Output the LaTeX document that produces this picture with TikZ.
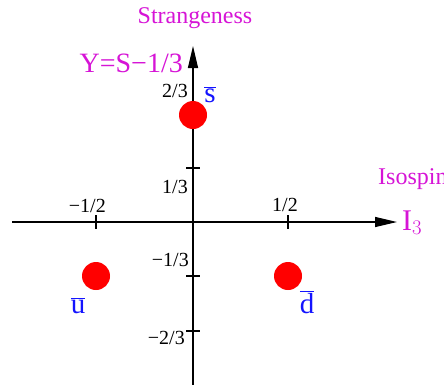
\documentclass[tikz,border=0pt]{standalone}
\usepackage{fontspec}
\setmainfont{Liberation Serif}
\usetikzlibrary{arrows.meta}
\definecolor{mag}{RGB}{214,20,214}
\definecolor{qblue}{RGB}{20,20,255}
\begin{document}
\begin{tikzpicture}[x=1pt,y=-1pt,
  axis/.style={line width=1.3pt,-{Triangle[length=22pt,width=10pt]}},
  tickmark/.style={line width=1.1pt},
  dot/.style={circle,fill=red,minimum size=28pt,inner sep=0pt},
  num/.style={font=\fontsize{20}{20}\selectfont,inner sep=0pt},
  title/.style={font=\fontsize{24}{24}\selectfont,text=mag,inner sep=0pt},
  big/.style={font=\fontsize{28}{28}\selectfont,text=mag,inner sep=0pt},
  quark/.style={font=\fontsize{29}{29}\selectfont,text=qblue,inner sep=0pt}]
\useasboundingbox (0,0) rectangle (444,384);
\clip (0,0) rectangle (444,384);
\coordinate (xl) at (12,222);
\coordinate (xr) at (397,222);
\coordinate (yb) at (193,390);
\coordinate (yt) at (193,46);
\draw[axis] (xl) -- (xr);
\draw[axis] (yb) -- (yt);
% ticks
\draw[tickmark] (96,215) -- (96,229);
\draw[tickmark] (288,215) -- (288,229);
\draw[tickmark] (186,168) -- (200,168);
\draw[tickmark] (186,114) -- (200,114);
\draw[tickmark] (186,276) -- (200,276);
\draw[tickmark] (186,331) -- (200,331);
% tick labels
\node[num,anchor=east] (lmh) at (106,206) {−1/2};
\node[num] (lph) at (285,205) {1/2};
\node[num,anchor=east] (lpt) at (188,187) {1/3};
\node[num,anchor=east] (lptt) at (188,91) {2/3};
\node[num,anchor=east] (lmt) at (189,260) {−1/3};
\node[num,anchor=east] (lmtt) at (185,338) {−2/3};
% axis titles
\node[title] (strange) at (195,18) {Strangeness};
\node[title,anchor=west] (iso) at (378,179) {Isospin};
\node[big,anchor=east] (ylab) at (183,63) {Y=S−1/3};
\node[big,anchor=base west,font=\fontsize{30}{30}\selectfont] (i3) at (402,230) {I$_{\fontsize{24}{24}\selectfont 3}$};
% quarks
\node[dot] (sbar) at (193,115) {};
\node[dot] (ubar) at (96,276) {};
\node[dot] (dbar) at (288,276) {};
\node[quark,anchor=base] (sbarl) at (210,102) {$\overline{\hbox{s}}$};
\node[quark,anchor=base] (ubarl) at (78,313) {$\overline{\hbox{u}}$};
\node[quark,anchor=base] (dbarl) at (307,313) {$\overline{\hbox{d}}$};
\end{tikzpicture}
\end{document}
